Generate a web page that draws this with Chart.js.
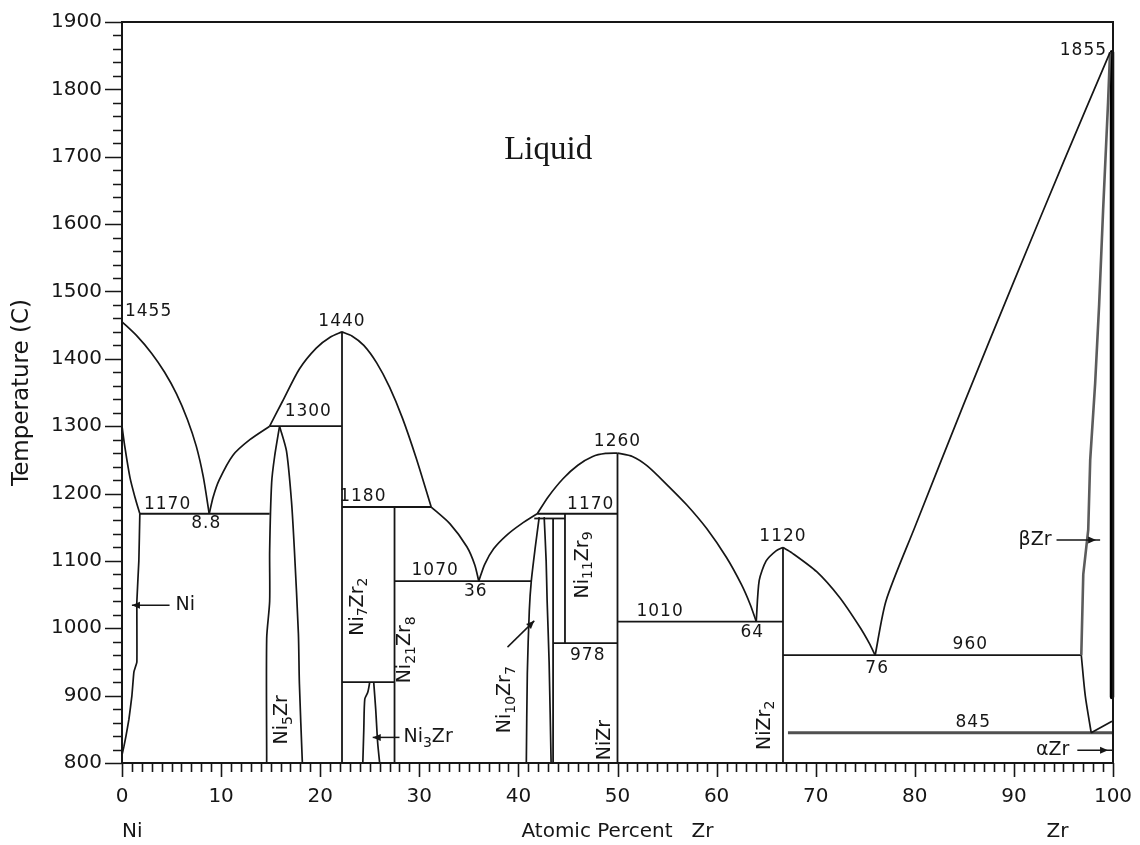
<!DOCTYPE html>
<html>
<head>
<meta charset="utf-8">
<title>Ni-Zr phase diagram</title>
<script src="https://cdn.jsdelivr.net/npm/chart.js@4.4.1/dist/chart.umd.min.js"></script>
<style>
  html, body { margin: 0; padding: 0; background: #fff; }
  #wrap { width: 1140px; height: 845px; }
</style>
</head>
<body>
<div id="wrap"><canvas id="phaseChart"></canvas></div>
<script>
// composition in at.% Zr, temperature in degrees C
const xTickValues = [0, 10, 20, 30, 40, 50, 60, 70, 80, 90, 100];
const yTickValues = [800, 900, 1000, 1100, 1200, 1300, 1400, 1500, 1600, 1700, 1800, 1900];

// liquidus, solidus and solvus curves as [x, T] pairs
const niLiquidus = [[0, 1455], [1.5, 1434], [3, 1408], [4.3, 1380], [5.5, 1348], [6.6, 1310], [7.5, 1270], [8.2, 1225], [8.8, 1170]];
const niSolidus = [[0, 1300], [0.3, 1268], [0.8, 1224], [1.3, 1195], [1.8, 1170]];
const niSolvus = [[1.8, 1170], [1.7, 1100], [1.5, 1040], [1.5, 950], [1.2, 935], [1.0, 900], [0.7, 865], [0.4, 840], [0.2, 825], [0, 812]];
const ni5ZrLiquidus = [[8.8, 1170], [9.2, 1195], [9.8, 1220], [11.2, 1257], [12.9, 1280], [14.9, 1300]];
const ni5ZrLeft = [[15.9, 1300], [15.4, 1255], [15.1, 1216], [14.9, 1115], [14.9, 1040], [14.6, 985], [14.6, 800]];
const ni5ZrRight = [[15.9, 1300], [16.6, 1263], [17.1, 1189], [17.4, 1115], [17.8, 992], [17.9, 918], [18.2, 800]];
const ni7Zr2Left = [[14.9, 1300], [16.2, 1337], [17.9, 1385], [19.6, 1416], [21.0, 1432], [22.2, 1440]];
const ni7Zr2Right = [[22.2, 1440], [23.2, 1434], [24.4, 1420], [25.7, 1394], [27.0, 1358], [28.3, 1312], [29.7, 1252], [31.2, 1180]];
const ni21Zr8Liquidus = [[31.2, 1180], [33.1, 1155], [34.8, 1121], [35.6, 1094], [36, 1070]];
const ni3ZrLeft = [[25.0, 920], [24.8, 905], [24.5, 895], [24.4, 850], [24.3, 800]];
const ni3ZrRight = [[25.4, 920], [25.6, 880], [25.8, 830], [26.0, 800]];
const ni10Zr7Liquidus = [[36, 1070], [36.6, 1095], [37.5, 1118], [38.8, 1138], [40.3, 1155], [41.9, 1170]];
const niZrLiquidusLeft = [[41.9, 1170], [43.0, 1195], [44.5, 1222], [46.0, 1242], [47.5, 1255], [48.8, 1259.5], [50, 1260]];
const ni10Zr7Left = [[42.1, 1165], [41.7, 1120], [41.3, 1070], [41.1, 1026], [40.9, 933], [40.8, 800]];
const ni10Zr7Right = [[42.6, 1165], [42.8, 1100], [42.9, 1040], [43.1, 950], [43.3, 800]];
const niZrLiquidusRight = [[50, 1260], [51.5, 1255], [53, 1241], [55, 1213], [57, 1183], [59, 1148], [61, 1105], [62.5, 1065], [63.4, 1035], [64, 1010]];
const niZr2Left = [[64, 1010], [64.3, 1071], [65.0, 1100], [66.0, 1115], [66.7, 1120]];
const niZr2Right = [[66.7, 1120], [67.6, 1112], [70.1, 1084], [72.4, 1046], [74.4, 1003], [75.4, 978], [76, 960]];
const zrLiquidus = [[76, 960], [77.1, 1041], [80, 1150], [85, 1335], [90, 1515], [95, 1692], [99.7, 1855]];
const betaZrSolidus = [[99.7, 1855], [99.5, 1780], [99.0, 1620], [98.6, 1480], [98.2, 1364], [97.7, 1250], [97.5, 1146], [97.0, 1080], [96.8, 960]];
const betaZrSolvus = [[96.8, 960], [97.2, 900], [97.8, 845]];
const alphaZrSolvus = [[97.8, 845], [99.9, 862]];
const betaZrEdge = [[99.9, 1855], [99.9, 898]];

// invariant isotherms: [T, x from, x to]
const isotherms = [
  [1170, 1.8, 14.9], [1300, 14.9, 22.2], [1180, 22.2, 31.2], [920, 22.2, 27.5],
  [1070, 27.5, 41.3], [1163, 41.6, 44.7], [1170, 41.9, 50], [978, 43.5, 50],
  [1010, 50, 66.7], [960, 66.7, 96.8], [845, 67.2, 100]
];
// compound lines: [x, T low, T high]
const compoundLines = [[22.2, 800, 1440], [27.5, 800, 1180], [43.5, 800, 1163], [44.7, 978, 1170], [50, 800, 1260], [66.7, 800, 1120]];

// temperature / composition notes: [text, x, T, align]
const valueNotes = [
  ['1455', 0.3, 1470, 'left'], ['1440', 22.2, 1456], ['1300', 18.8, 1322], ['1170', 4.6, 1183], ['8.8', 8.5, 1155],
  ['1180', 24.3, 1196], ['1070', 31.6, 1085], ['36', 35.7, 1054], ['1260', 50, 1277], ['1170', 47.3, 1184],
  ['978', 47.0, 959], ['1010', 54.3, 1025], ['64', 63.6, 993], ['1120', 66.7, 1136], ['960', 85.6, 976],
  ['76', 76.2, 940], ['845', 85.9, 860], ['1855', 99.4, 1858, 'right']
];
// compound names, written vertically: [formula, x, T]
const phaseNotes = [
  ['Ni5Zr', 16.2, 864], ['Ni7Zr2', 23.8, 1032], ['Ni21Zr8', 28.6, 968], ['Ni10Zr7', 38.7, 894],
  ['Ni11Zr9', 46.5, 1094], ['NiZr', 48.7, 834], ['NiZr2', 64.9, 856]
];
// arrows that point out narrow phase fields
const pointers = [
  { text: 'Ni', from: [4.8, 1034], tip: [1.0, 1034], label: [5.1, 1034], align: 'left' },
  { text: 'Ni3Zr', from: [28.0, 838], tip: [25.3, 838], label: [28.1, 838], align: 'left' },
  { text: '', from: [38.9, 972], tip: [41.6, 1011] },
  { text: 'βZr', from: [94.3, 1131], tip: [98.3, 1131], tail: 98.7, label: [94.1, 1131], align: 'right' },
  { text: 'αZr', from: [96.4, 819], tip: [99.5, 819], tail: 99.9, label: [95.9, 819], align: 'right' }
];

const INK = '#161616';
const SANS = '"DejaVu Sans", Verdana, sans-serif';

function series(points, width = 1.7, color = INK, tension = 0.25) {
  return {
    data: points.map(([x, y]) => ({ x, y })),
    showLine: true,
    borderColor: color,
    borderWidth: width,
    pointRadius: 0,
    tension,
    clip: 6,
    borderJoinStyle: 'round'
  };
}

const curves = [
  niLiquidus, niSolidus, ni5ZrLiquidus, ni5ZrLeft, ni5ZrRight, ni7Zr2Left, ni7Zr2Right, ni21Zr8Liquidus,
  ni3ZrLeft, ni3ZrRight, ni10Zr7Liquidus, niZrLiquidusLeft, ni10Zr7Left, ni10Zr7Right, niZrLiquidusRight,
  niZr2Left, niZr2Right, zrLiquidus, betaZrSolvus, alphaZrSolvus
];

const datasets = [
  ...curves.map((c) => series(c)),
  series(niSolvus, 1.7, INK, 0.1),
  series(betaZrSolidus, 2.6, '#5c5c5c', 0),
  series(betaZrEdge, 4.5, '#000', 0),
  ...isotherms.map(([t, a, b]) => series([[a, t], [b, t]], t === 845 ? 3 : 1.8, t === 845 ? '#505050' : INK, 0)),
  ...compoundLines.map(([x, lo, hi]) => series([[x, lo], [x, hi]], 1.8, INK, 0))
];

function setSpacing(ctx, value) {
  if ('letterSpacing' in ctx) ctx.letterSpacing = value;
}

// formula with lowered digits, centred on the current origin
function drawFormula(ctx, text, size) {
  const parts = text.match(/[^\d]+|\d+/g);
  const big = `${size}px ${SANS}`;
  const small = `${Math.round(size * 0.72)}px ${SANS}`;
  const widths = parts.map((p) => {
    ctx.font = /\d/.test(p) ? small : big;
    return ctx.measureText(p).width;
  });
  let cx = -widths.reduce((s, w) => s + w, 0) / 2;
  ctx.textAlign = 'left';
  ctx.textBaseline = 'middle';
  parts.forEach((p, i) => {
    const sub = /\d/.test(p);
    ctx.font = sub ? small : big;
    ctx.fillText(p, cx, sub ? size * 0.3 : 0);
    cx += widths[i];
  });
  return widths.reduce((s, w) => s + w, 0);
}

function arrowHead(ctx, x1, y1, x2, y2) {
  const ang = Math.atan2(y2 - y1, x2 - x1);
  const len = 8, half = 3.5;
  ctx.beginPath();
  ctx.moveTo(x2, y2);
  ctx.lineTo(x2 - len * Math.cos(ang) + half * Math.sin(ang), y2 - len * Math.sin(ang) - half * Math.cos(ang));
  ctx.lineTo(x2 - len * Math.cos(ang) - half * Math.sin(ang), y2 - len * Math.sin(ang) + half * Math.cos(ang));
  ctx.closePath();
  ctx.fill();
}

const annotate = {
  id: 'annotate',
  afterDatasetsDraw(chart) {
    const { ctx, chartArea: area, scales: { x, y } } = chart;
    const X = (v) => x.getPixelForValue(v);
    const Y = (v) => y.getPixelForValue(v);
    ctx.save();
    ctx.strokeStyle = INK;
    ctx.fillStyle = INK;

    // top and right sides of the frame
    ctx.lineWidth = 2;
    ctx.beginPath();
    ctx.moveTo(area.left, area.top);
    ctx.lineTo(area.right, area.top);
    ctx.lineTo(area.right, area.bottom);
    ctx.stroke();

    // minor ticks every 1 at.% and 20 C, longer at the labelled values
    ctx.lineWidth = 1.6;
    ctx.beginPath();
    for (let v = 0; v <= 100; v++) {
      const px = Math.round(X(v)) + 0.5;
      ctx.moveTo(px, area.bottom);
      ctx.lineTo(px, area.bottom + (v % 10 ? 9 : 14));
    }
    for (let t = 800; t <= 1900; t += 20) {
      const py = Math.round(Y(t)) + 0.5;
      ctx.moveTo(area.left - (t % 100 ? 9 : 17), py);
      ctx.lineTo(area.left, py);
    }
    ctx.stroke();

    // field label
    ctx.font = '33px "Liberation Serif", "DejaVu Serif", serif';
    ctx.textAlign = 'center';
    ctx.textBaseline = 'middle';
    ctx.fillText('Liquid', X(43), Y(1710));

    // invariant temperatures and compositions
    ctx.font = `17px ${SANS}`;
    setSpacing(ctx, '1px');
    valueNotes.forEach(([text, vx, vt, align]) => {
      ctx.textAlign = align || 'center';
      ctx.fillText(text, X(vx), Y(vt));
    });
    setSpacing(ctx, '0px');

    // compound names
    phaseNotes.forEach(([text, vx, vt]) => {
      ctx.save();
      ctx.translate(X(vx), Y(vt));
      ctx.rotate(-Math.PI / 2);
      drawFormula(ctx, text, 19);
      ctx.restore();
    });

    // pointers
    ctx.lineWidth = 1.5;
    pointers.forEach((p) => {
      const x1 = X(p.from[0]), y1 = Y(p.from[1]);
      const x2 = X(p.tip[0]), y2 = Y(p.tip[1]);
      const xe = p.tail !== undefined ? X(p.tail) : x2;
      ctx.beginPath();
      ctx.moveTo(x1, y1);
      ctx.lineTo(xe, y2 + (xe - x2) * (y2 - y1) / (x2 - x1));
      ctx.stroke();
      arrowHead(ctx, x1, y1, x2, y2);
      if (!p.text) return;
      ctx.save();
      ctx.font = `19px ${SANS}`;
      ctx.textBaseline = 'middle';
      if (p.align === 'right') {
        ctx.textAlign = 'right';
        ctx.fillText(p.text, X(p.label[0]) - 3, Y(p.label[1]));
      } else {
        ctx.translate(X(p.label[0]) + 3, Y(p.label[1]));
        ctx.globalAlpha = 0;
        const w = drawFormula(ctx, p.text, 19);
        ctx.globalAlpha = 1;
        ctx.translate(w / 2, 0);
        drawFormula(ctx, p.text, 19);
      }
      ctx.restore();
    });

    // end members under the composition axis
    ctx.font = `20px ${SANS}`;
    ctx.textBaseline = 'middle';
    ctx.textAlign = 'left';
    ctx.fillText('Ni', X(0), area.bottom + 69);
    ctx.textAlign = 'center';
    ctx.fillText('Zr', X(94.4), area.bottom + 69);
    ctx.restore();
  }
};

new Chart(document.getElementById('phaseChart'), {
  type: 'scatter',
  data: { datasets },
  options: {
    responsive: true,
    maintainAspectRatio: false,
    animation: false,
    events: [],
    layout: { padding: { top: 22, right: 27, left: 0, bottom: 0 } },
    plugins: { legend: { display: false }, tooltip: { enabled: false } },
    scales: {
      x: {
        type: 'linear',
        min: 0,
        max: 100,
        afterFit: (s) => { s.height = 82; s.paddingLeft = 0; s.paddingRight = 0; },
        afterBuildTicks: (s) => { s.ticks = xTickValues.map((value) => ({ value })); },
        grid: { display: false },
        border: { display: true, color: INK, width: 2 },
        ticks: { color: INK, font: { family: SANS, size: 20 }, padding: 14, maxRotation: 0, autoSkip: false, callback: (v) => String(v) },
        title: { display: true, text: 'Atomic Percent   Zr', color: INK, font: { family: SANS, size: 20 }, padding: { top: 0, bottom: 1 } }
      },
      y: {
        type: 'linear',
        min: 800,
        max: 1900,
        afterFit: (s) => { s.width = 122; s.paddingTop = 0; s.paddingBottom = 0; },
        afterBuildTicks: (s) => { s.ticks = yTickValues.map((value) => ({ value })); },
        grid: { display: false },
        border: { display: true, color: INK, width: 2 },
        ticks: { color: INK, font: { family: SANS, size: 20 }, padding: 12, autoSkip: false, callback: (v) => String(v) },
        title: { display: true, text: 'Temperature (C)', color: INK, font: { family: SANS, size: 23 }, padding: { top: 8, bottom: 0 } }
      }
    }
  },
  plugins: [annotate]
});
</script>
</body>
</html>
